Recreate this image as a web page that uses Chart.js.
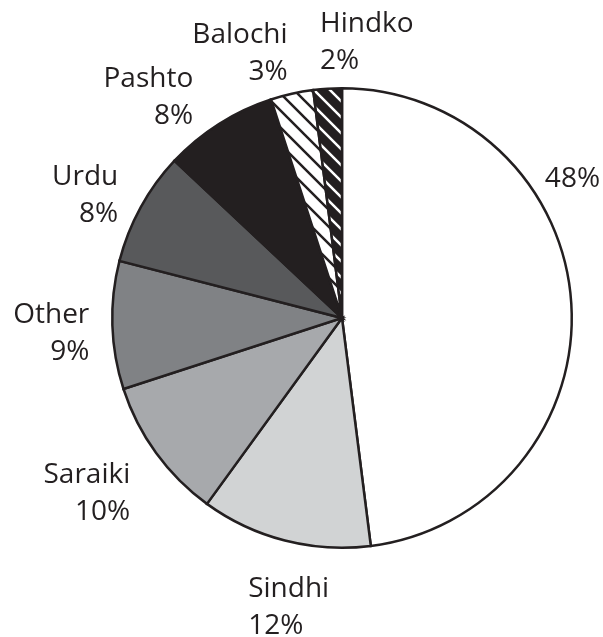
<!DOCTYPE html>
<html>
<head>
<meta charset="utf-8">
<script src="https://cdn.jsdelivr.net/npm/chart.js@4.4.0/dist/chart.umd.min.js"></script>
<style>
  html, body { margin: 0; padding: 0; background: #fff; }
  #wrap { width: 603px; height: 637px; }
</style>
</head>
<body>
<div id="wrap"><canvas id="myChart"></canvas></div>
<script>
var linguas = ["", "Sindhi", "Saraiki", "Other", "Urdu", "Pashto", "Balochi", "Hindko"];
var percentuais = [48, 12, 10, 9, 8, 8, 3, 2];

function listras(fundo, linha, tam, larg) {
  var c = document.createElement("canvas");
  c.width = tam;
  c.height = tam;
  var g = c.getContext("2d");
  g.fillStyle = fundo;
  g.fillRect(0, 0, tam, tam);
  g.strokeStyle = linha;
  g.lineWidth = larg;
  g.beginPath();
  g.moveTo(-tam, 0); g.lineTo(tam, 2 * tam);
  g.moveTo(0, 0); g.lineTo(tam, tam);
  g.moveTo(0, -tam); g.lineTo(2 * tam, tam);
  g.stroke();
  return g.createPattern(c, "repeat");
}

var cores = [
  "#ffffff",
  "#d1d3d4",
  "#a7a9ac",
  "#808285",
  "#58595b",
  "#231f20",
  listras("#ffffff", "#231f20", 17, 2.5),
  listras("#231f20", "#ffffff", 16, 2.5)
];

// ajustes dos rotulos: angulo (graus), distancia alem do raio, alinhamento
var ajusteAng = [-29.2, 4.2, -1.9, 0.7, 1.9, -0.4, 1.4, -0.8];
var ajusteDist = [11.6, 64.4, 38.6, 23, 30.5, 44.9, 50.5, 56.8];
var alinha = ["left", "left", "right", "right", "right", "right", "right", "left"];

var rotulos = {
  id: "rotulos",
  afterDatasetsDraw: function (chart) {
    var ctx = chart.ctx;
    var arcos = chart.getDatasetMeta(0).data;
    ctx.save();
    ctx.fillStyle = "#231f20";
    ctx.font = "28px 'Open Sans'";
    ctx.textBaseline = "alphabetic";
    arcos.forEach(function (a, i) {
      var meio = (a.startAngle + a.endAngle) / 2 + ajusteAng[i] * Math.PI / 180;
      var d = a.outerRadius + ajusteDist[i];
      var x = a.x + Math.cos(meio) * d;
      var y = a.y + Math.sin(meio) * d;
      var txt = percentuais[i] + "%";
      ctx.textAlign = alinha[i];
      if (linguas[i]) {
        ctx.fillText(linguas[i], x, y);
        ctx.fillText(txt, x, y + 37);
      } else {
        ctx.fillText(txt, x, y);
      }
    });
    ctx.restore();
  }
};

var ctx = document.getElementById("myChart");
var myChart = new Chart(ctx, {
  type: "pie",
  data: {
    labels: linguas,
    datasets: [{
      data: percentuais,
      backgroundColor: cores,
      borderColor: "#231f20",
      borderWidth: 2.5,
      borderJoinStyle: "miter"
    }]
  },
  options: {
    responsive: true,
    maintainAspectRatio: false,
    animation: false,
    layout: { padding: { left: 111, right: 30, top: 87, bottom: 88 } },
    plugins: {
      legend: { display: false },
      tooltip: { enabled: false }
    }
  },
  plugins: [rotulos]
});
</script>
</body>
</html>
